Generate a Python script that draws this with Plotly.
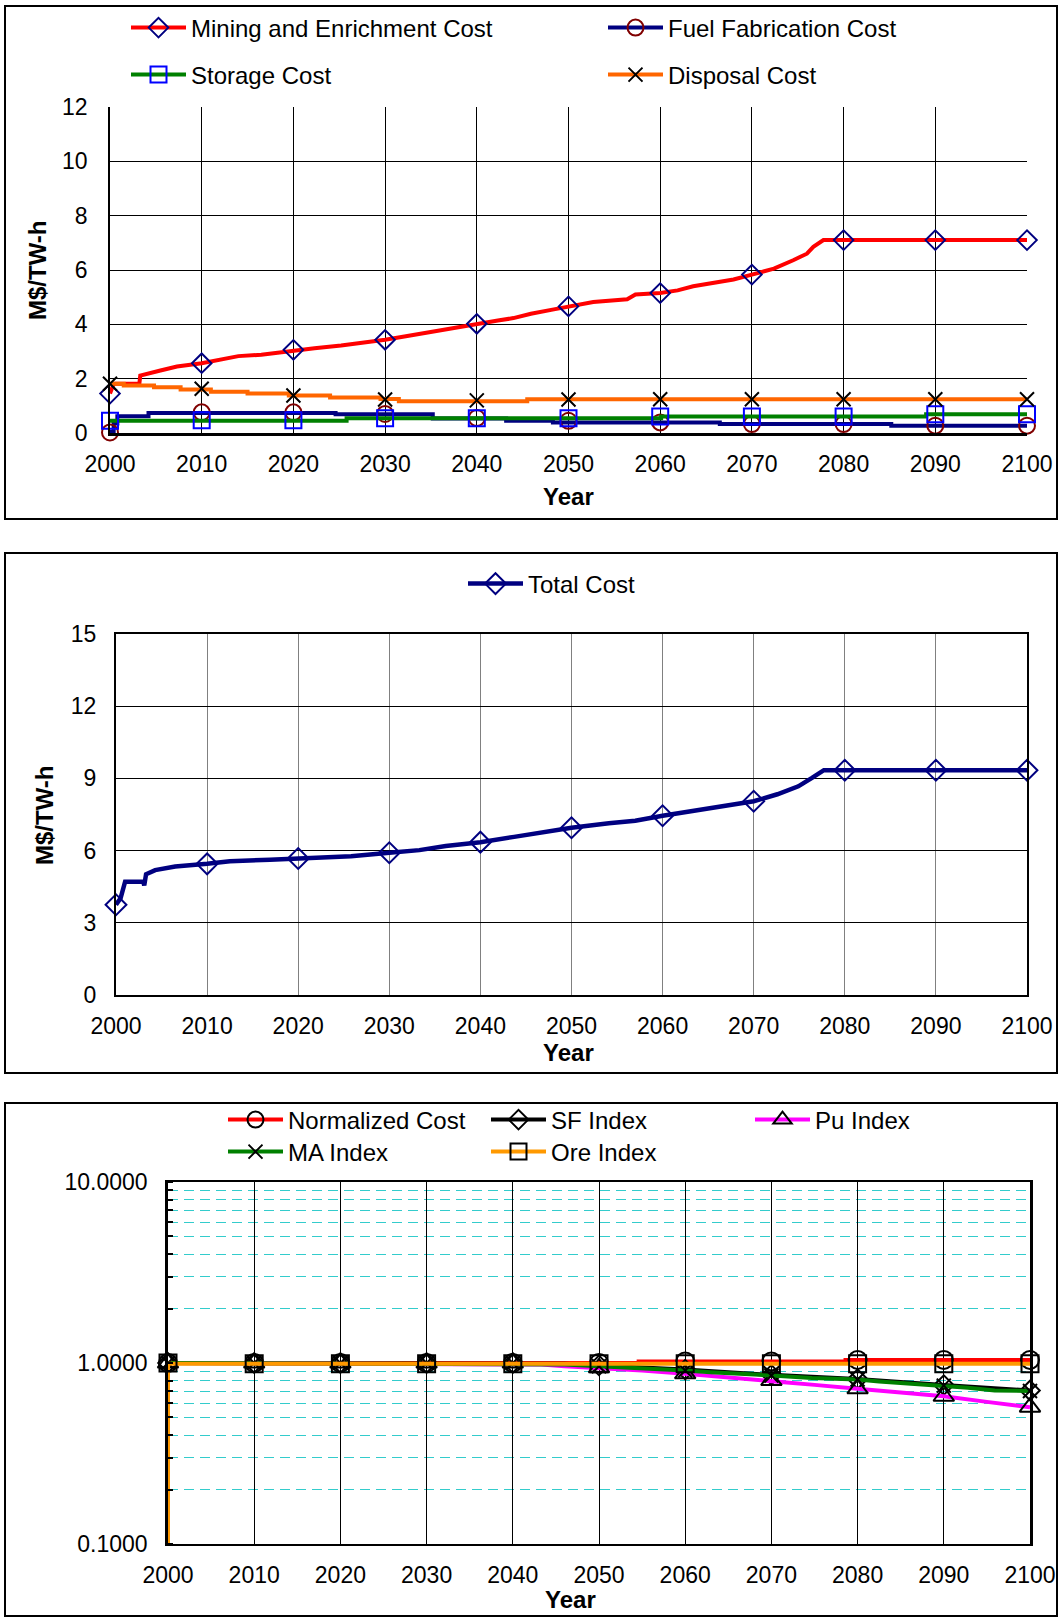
import plotly.graph_objects as go

W, H = 1061, 1617
FONT = "Liberation Sans, Arial, sans-serif"

decades = [2000, 2010, 2020, 2030, 2040, 2050, 2060, 2070, 2080, 2090, 2100]
x_ticks = ["2000", "2010", "2020", "2030", "2040", "2050", "2060", "2070", "2080", "2090", "2100"]

# ---------------- Panel 1: cost components (M$/TW-h) ----------------
me_years = [2000, 2000.4, 2003.2, 2003.3, 2005.5, 2007.3, 2010, 2012.2, 2014, 2016.5,
            2018.7, 2020, 2022.3, 2025.2, 2027.7, 2030, 2032.1, 2034.3, 2036.9, 2038.7,
            2040, 2042.3, 2044, 2045.9, 2048.4, 2050, 2052.7, 2056.4, 2057.3, 2060,
            2061.9, 2063.6, 2065.5, 2068, 2070, 2072.4, 2074.5, 2076, 2076.7, 2077.8, 2100]
me_vals = [1.45, 1.81, 1.81, 2.11, 2.3, 2.45, 2.57, 2.73, 2.83, 2.88,
           2.97, 3.06, 3.12, 3.22, 3.32, 3.43, 3.55, 3.68, 3.84, 3.96,
           4.02, 4.14, 4.23, 4.39, 4.55, 4.66, 4.82, 4.92, 5.1, 5.15,
           5.25, 5.4, 5.52, 5.65, 5.83, 6.05, 6.36, 6.6, 6.85, 7.1, 7.1]
me_mark = [1.45, 2.57, 3.06, 3.43, 4.02, 4.66, 5.15, 5.83, 7.1, 7.1, 7.1]

ff_years = [2000, 2000.4, 2000.8, 2004.2, 2024.6, 2035.2, 2043.2, 2048.3, 2066.5, 2085.2, 2100]
ff_vals = [0.05, 0.35, 0.62, 0.74, 0.69, 0.53, 0.45, 0.39, 0.33, 0.27, 0.27]
ff_mark = [0.02, 0.76, 0.76, 0.7, 0.55, 0.45, 0.39, 0.33, 0.33, 0.27, 0.27]

st_years = [2000, 2025.8, 2060.1, 2089, 2100]
st_vals = [0.45, 0.54, 0.61, 0.69, 0.69]
st_mark = [0.45, 0.47, 0.47, 0.54, 0.54, 0.54, 0.61, 0.61, 0.61, 0.69, 0.69]

dp_years = [2000, 2001.5, 2004.8, 2007.7, 2011, 2015, 2019.5, 2024, 2029.5, 2031.5, 2045.5, 2100]
dp_vals = [1.81, 1.75, 1.68, 1.6, 1.52, 1.45, 1.38, 1.31, 1.25, 1.17, 1.24, 1.24]
dp_mark = [1.81, 1.63, 1.38, 1.23, 1.2, 1.23, 1.24, 1.24, 1.24, 1.24, 1.24]

# ---------------- Panel 2: total cost ----------------
tc_years = [2000, 2000.5, 2001, 2003.0, 2003.1, 2003.3, 2004.3, 2006.5, 2010, 2012.5,
            2016.9, 2020, 2025.8, 2030, 2033.3, 2036.2, 2040, 2043.7, 2046.6, 2050,
            2054.1, 2057, 2060, 2063.7, 2066.7, 2070, 2072.6, 2074.9, 2076.4, 2077.7, 2100]
tc_vals = [3.75, 4.02, 4.71, 4.71, 4.55, 5.02, 5.19, 5.34, 5.45, 5.56,
           5.62, 5.67, 5.77, 5.91, 6.02, 6.19, 6.35, 6.57, 6.74, 6.95,
           7.14, 7.24, 7.45, 7.67, 7.81, 8.05, 8.34, 8.67, 9.02, 9.34, 9.34]
tc_mark = [3.75, 5.45, 5.67, 5.91, 6.35, 6.95, 7.45, 8.05, 9.34, 9.34, 9.34]

# ---------------- Panel 3: indices (log scale) ----------------
nc_years = [2000, 2054.6, 2078.6, 2100]
nc_vals = [1.0, 1.02, 1.04, 1.04]
nc_mark = [1.0, 1.0, 1.0, 1.0, 1.0, 1.0, 1.02, 1.02, 1.04, 1.04, 1.04]

sf_years = [2000, 2046, 2050, 2060, 2070, 2080, 2090, 2100]
sf_vals = [1.0, 0.99, 0.97, 0.92, 0.86, 0.815, 0.755, 0.705]
sf_mark = [1.0, 1.0, 1.0, 1.0, 1.0, 0.97, 0.92, 0.86, 0.815, 0.755, 0.705]

pu_years = [2000, 2043.3, 2046, 2050, 2055, 2060, 2065, 2070, 2075, 2080, 2085, 2090, 2095, 2100]
pu_vals = [1.0, 0.98, 0.96, 0.94, 0.91, 0.872, 0.835, 0.80, 0.757, 0.72, 0.69, 0.655, 0.61, 0.57]
pu_mark = [1.0, 1.0, 1.0, 1.0, 1.0, 0.94, 0.872, 0.80, 0.72, 0.655, 0.57]

ma_years = [2000, 2046, 2050, 2055, 2060, 2062.9, 2065.3, 2070, 2074.7, 2080, 2082.5, 2086.1, 2090, 2092.8, 2095.9, 2100]
ma_vals = [1.0, 0.98, 0.96, 0.937, 0.909, 0.89, 0.88, 0.853, 0.825, 0.81, 0.79, 0.767, 0.75, 0.73, 0.705, 0.70]
ma_mark = [1.0, 1.0, 1.0, 1.0, 1.0, 0.96, 0.909, 0.853, 0.81, 0.75, 0.70]

ore_years = [2000, 2000.15, 2100]
ore_vals = [0.08, 0.99, 0.99]
ore_mark = [1.0, 0.99, 0.99, 0.99, 0.99, 0.99, 0.99, 0.99, 0.99, 0.99, 0.99]

log_tickvals = [0.1, 1, 10]
log_ticktext = ["0.1000", "1.0000", "10.0000"]


def fx(px):
    return px / W


def fy(py):
    return 1 - py / H


fig = go.Figure()

legend_layouts = {}
ITEMW = 55


def add_series(xa, ya, xs, ys, mx, my, name, lcolor, lw, symbol, msize, mcolor, mlw,
               legend_id, text_x, text_y, shape="linear"):
    fig.add_trace(go.Scatter(x=xs, y=ys, mode="lines", line=dict(color=lcolor, width=lw, shape=shape),
                             xaxis=xa, yaxis=ya, showlegend=False, hoverinfo="skip"))
    fig.add_trace(go.Scatter(x=mx, y=my, mode="markers", cliponaxis=False,
                             marker=dict(symbol=symbol, size=msize, color=mcolor,
                                         line=dict(color=mcolor, width=mlw)),
                             xaxis=xa, yaxis=ya, showlegend=False, name=name))
    fig.add_trace(go.Scatter(x=[None], y=[None], mode="lines+markers", name=name,
                             line=dict(color=lcolor, width=lw),
                             marker=dict(symbol=symbol, size=msize, color=mcolor,
                                         line=dict(color=mcolor, width=mlw)),
                             xaxis=xa, yaxis=ya, legend=legend_id, showlegend=True))
    legend_layouts[legend_id] = dict(x=fx(text_x - ITEMW - 10), y=fy(text_y), xanchor="left",
                                     yanchor="middle", itemwidth=ITEMW,
                                     bgcolor="rgba(0,0,0,0)", borderwidth=0,
                                     font=dict(family=FONT, size=24, color="black"))


# Panel 1
add_series("x", "y", me_years, me_vals, decades, me_mark, "Mining and Enrichment Cost", "#FF0000", 4,
           "diamond-open", 15, "#000080", 2, "legend", 191, 28)
add_series("x", "y", ff_years, ff_vals, decades, ff_mark, "Fuel Fabrication Cost", "#000080", 4,
           "circle-open", 16, "#800000", 2, "legend2", 668, 28, shape="hv")
add_series("x", "y", st_years, st_vals, decades, st_mark, "Storage Cost", "#008000", 4,
           "square-open", 16, "#0000FF", 2, "legend3", 191, 75, shape="hv")
add_series("x", "y", dp_years, dp_vals, decades, dp_mark, "Disposal Cost", "#FF6600", 4,
           "x-thin-open", 14, "#000000", 2, "legend4", 668, 75, shape="hv")

# Panel 2
add_series("x2", "y2", tc_years, tc_vals, decades, tc_mark, "Total Cost", "#000080", 4.5,
           "diamond-open", 16, "#000080", 2, "legend5", 528, 584)

# Panel 3
add_series("x3", "y3", nc_years, nc_vals, decades, nc_mark, "Normalized Cost", "#FF0000", 4,
           "circle-open", 18, "#000000", 2, "legend6", 288, 1120, shape="hv")
add_series("x3", "y3", sf_years, sf_vals, decades, sf_mark, "SF Index", "#000000", 4,
           "diamond-open", 15, "#000000", 2, "legend7", 551, 1120)
add_series("x3", "y3", pu_years, pu_vals, decades, pu_mark, "Pu Index", "#FF00FF", 4,
           "triangle-up-open", 18, "#000000", 2, "legend8", 815, 1120)
add_series("x3", "y3", ma_years, ma_vals, decades, ma_mark, "MA Index", "#008000", 4,
           "x-thin-open", 14, "#000000", 2, "legend9", 288, 1152)
add_series("x3", "y3", ore_years, ore_vals, decades, ore_mark, "Ore Index", "#FF9900", 4,
           "square-open", 17, "#000000", 2, "legend10", 551, 1152, shape="vh")

tickfont = dict(family=FONT, size=23, color="black")

xcommon = dict(range=[2000, 2100], tickmode="array", tickvals=decades, ticktext=x_ticks,
               ticks="", tickfont=tickfont, zeroline=False, showgrid=True, fixedrange=True,
               automargin=False)

layout = dict(
    template="none",
    width=W, height=H,
    margin=dict(l=0, r=0, t=0, b=0, pad=0, autoexpand=False),
    paper_bgcolor="white", plot_bgcolor="white",
    font=dict(family=FONT, color="black"),
    xaxis=dict(xcommon, domain=[fx(110), fx(1027)], anchor="y", gridcolor="black", gridwidth=1,
               showline=True, linecolor="black", linewidth=3, ticklabelstandoff=8),
    yaxis=dict(domain=[fy(433), fy(107)], anchor="x", range=[0, 12], dtick=2, tick0=0,
               gridcolor="black", gridwidth=1, showline=True, linecolor="black", linewidth=1.5,
               ticks="", tickfont=tickfont, zeroline=False, ticklabelstandoff=16, automargin=False),
    xaxis2=dict(xcommon, domain=[fx(116), fx(1027)], anchor="y2", gridcolor="#808080", gridwidth=1,
                showline=True, linecolor="black", linewidth=2, mirror=True, ticklabelstandoff=9),
    yaxis2=dict(domain=[fy(995), fy(634)], anchor="x2", range=[0, 15], dtick=3, tick0=0,
                gridcolor="black", gridwidth=1, showline=True, linecolor="black", linewidth=2, mirror=True,
                ticks="", tickfont=tickfont, zeroline=False, ticklabelstandoff=13, automargin=False),
    xaxis3=dict(xcommon, domain=[fx(168), fx(1030)], anchor="y3", gridcolor="black", gridwidth=1,
                showline=True, linecolor="black", linewidth=2, mirror=True, ticklabelstandoff=9),
    yaxis3=dict(domain=[fy(1544), fy(1182)], anchor="x3", type="log", range=[-1, 1],
                tickmode="array", tickvals=log_tickvals, ticktext=log_ticktext,
                gridcolor="black", gridwidth=1, showline=True, linecolor="black", linewidth=2.5, mirror=True,
                ticks="", tickfont=tickfont, zeroline=False, ticklabelstandoff=13, automargin=False,
                minor=dict(dtick="D1", showgrid=True, gridcolor="#33CCCC", gridwidth=1.2,
                           griddash="10px,6px", ticks="inside", ticklen=5, tickcolor="black", tickwidth=1.5)),
    showlegend=True,
)
layout.update(legend_layouts)

# Panel frames
frames = [(5, 6, 1057, 519), (5, 553, 1057, 1073), (5, 1103, 1057, 1616)]
shapes = []
for (x0, y0, x1, y1) in frames:
    shapes.append(dict(type="rect", xref="paper", yref="paper", x0=fx(x0), x1=fx(x1), y0=fy(y1), y1=fy(y0),
                       line=dict(color="black", width=2), fillcolor="rgba(0,0,0,0)", layer="below"))
layout["shapes"] = shapes

title_font = dict(family=FONT, size=24, color="black")
annotations = [
    dict(text="<b>M$/TW-h</b>", x=fx(37), y=fy(270), xref="paper", yref="paper", textangle=-90,
         showarrow=False, font=title_font, xanchor="center", yanchor="middle"),
    dict(text="<b>Year</b>", x=fx(568), y=fy(497), xref="paper", yref="paper",
         showarrow=False, font=title_font, xanchor="center", yanchor="middle"),
    dict(text="<b>M$/TW-h</b>", x=fx(44), y=fy(815), xref="paper", yref="paper", textangle=-90,
         showarrow=False, font=title_font, xanchor="center", yanchor="middle"),
    dict(text="<b>Year</b>", x=fx(568), y=fy(1052), xref="paper", yref="paper",
         showarrow=False, font=title_font, xanchor="center", yanchor="middle"),
    dict(text="<b>Year</b>", x=fx(570), y=fy(1599), xref="paper", yref="paper",
         showarrow=False, font=title_font, xanchor="center", yanchor="middle"),
]
layout["annotations"] = annotations

fig.update_layout(layout)
fig.write_html(
    "out.html",
    config={"displayModeBar": False},
    post_script=("document.body.style.margin='0';document.body.style.overflow='hidden';"
                 "document.documentElement.style.overflow='hidden';"),
)
